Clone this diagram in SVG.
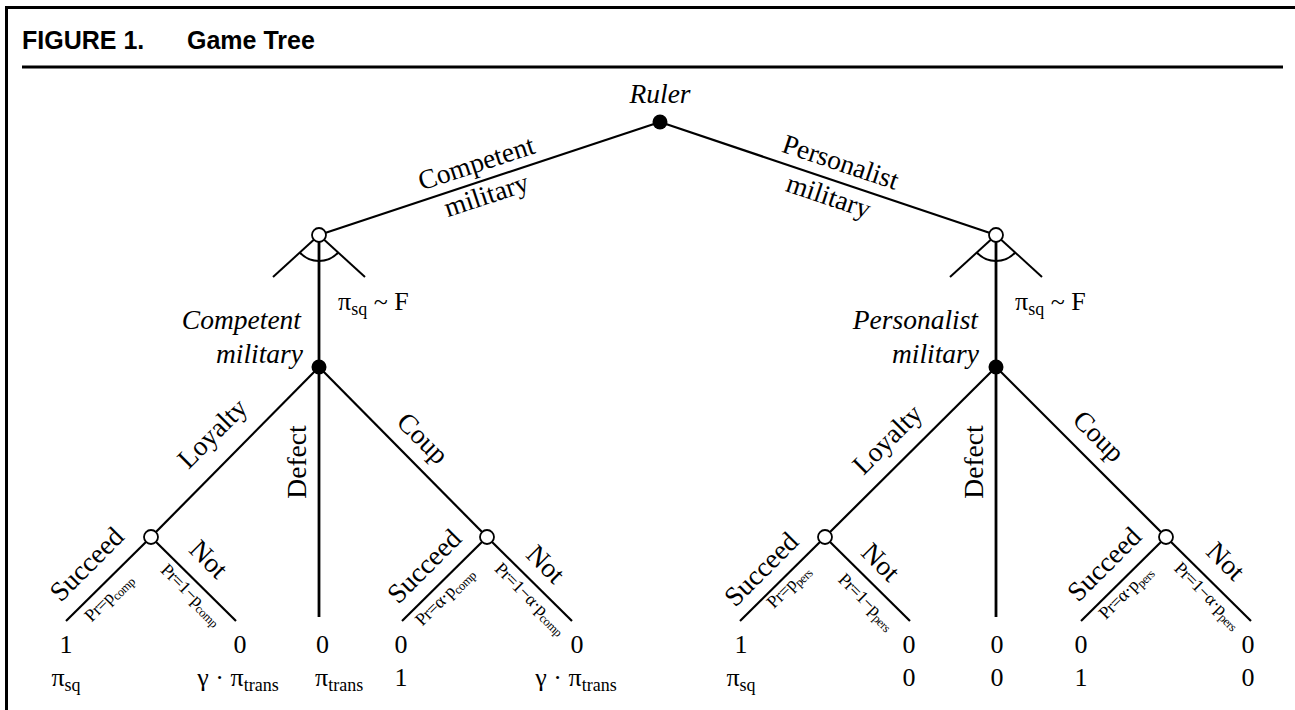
<svg xmlns="http://www.w3.org/2000/svg" width="1295" height="710" viewBox="0 0 1295 710">
<style>
.frame{stroke:#000;stroke-width:3;fill:none}
.e{stroke:#000;stroke-width:2.2;fill:none;stroke-linecap:butt}
.v{stroke:#000;stroke-width:2.8;fill:none}
.f{stroke:#000;stroke-width:2;fill:none}
.dec{fill:#000}
.chance{fill:#fff;stroke:#000;stroke-width:1.8}
.t{font-family:"Liberation Serif","Times New Roman",serif;font-size:26px;fill:#000}
.L{font-size:27.5px}
.it{font-style:italic}
.m{text-anchor:middle}
.end{text-anchor:end}
.sm{font-family:"Liberation Serif","Times New Roman",serif;font-size:18px;fill:#000;text-anchor:middle;letter-spacing:-0.4px}
.s{font-size:18px}
.ss{font-size:12.5px}
.title{font-family:"Liberation Sans",Arial,sans-serif;font-weight:bold;font-size:25px;fill:#000}
</style>
<rect width="1295" height="710" fill="#fff"/>
<g id="frame">
<line class="frame" x1="6.5" y1="7" x2="6.5" y2="710"/>
<line class="frame" x1="5" y1="7.5" x2="1295" y2="7.5"/>
<line class="frame" x1="22" y1="67" x2="1283" y2="67"/>
<text class="title" x="22" y="49">FIGURE 1.</text>
<text class="title" x="187" y="49">Game Tree</text>
</g>
<g id="connectors">
<line class="e" x1="660" y1="122" x2="319" y2="235"/>
<line class="e" x1="660" y1="122" x2="996" y2="235"/>
<line class="v" x1="319" y1="235" x2="319" y2="367"/>
<line class="v" x1="319" y1="367" x2="319" y2="617"/>
<line class="v" x1="996" y1="235" x2="996" y2="367"/>
<line class="v" x1="996" y1="367" x2="996" y2="617"/>
<line class="f" x1="319" y1="235" x2="273" y2="277"/>
<line class="f" x1="319" y1="235" x2="365" y2="277"/>
<path class="f" d="M299.8,252.5 A26,26 0 0 0 338.2,252.5"/>
<line class="f" x1="996" y1="235" x2="950" y2="277"/>
<line class="f" x1="996" y1="235" x2="1042" y2="277"/>
<path class="f" d="M976.8,252.5 A26,26 0 0 0 1015.2,252.5"/>
<line class="e" x1="319" y1="367" x2="151" y2="537"/>
<line class="e" x1="319" y1="367" x2="487" y2="537"/>
<line class="e" x1="151" y1="537" x2="66" y2="621"/>
<line class="e" x1="151" y1="537" x2="236" y2="621"/>
<line class="e" x1="487" y1="537" x2="402" y2="621"/>
<line class="e" x1="487" y1="537" x2="572" y2="621"/>
<line class="e" x1="996" y1="367" x2="825" y2="537"/>
<line class="e" x1="996" y1="367" x2="1166" y2="537"/>
<line class="e" x1="825" y1="537" x2="740" y2="621"/>
<line class="e" x1="825" y1="537" x2="910" y2="621"/>
<line class="e" x1="1166" y1="537" x2="1081" y2="621"/>
<line class="e" x1="1166" y1="537" x2="1251" y2="621"/>
<text class="t L m" transform="translate(477,165) rotate(-18.2)" y="7">Competent</text>
<text class="t L m" transform="translate(487,197) rotate(-18.2)" y="7">military</text>
<text class="t L m" transform="translate(840,164) rotate(18.6)" y="7">Personalist</text>
<text class="t L m" transform="translate(828,198) rotate(18.6)" y="7">military</text>
<text class="t" x="338" y="310">π<tspan class="s" dy="5">sq</tspan><tspan dy="-5"> ~ F</tspan></text>
<text class="t" x="1015" y="310">π<tspan class="s" dy="5">sq</tspan><tspan dy="-5"> ~ F</tspan></text>
<text class="t L m" transform="translate(213,434) rotate(-45)" y="8">Loyalty</text>
<text class="t L m" transform="translate(297,462) rotate(-90)" y="9">Defect</text>
<text class="t L m" transform="translate(422,439) rotate(45)" y="8">Coup</text>
<text class="t L m" transform="translate(888,440) rotate(-45)" y="8">Loyalty</text>
<text class="t L m" transform="translate(974,462) rotate(-90)" y="9">Defect</text>
<text class="t L m" transform="translate(1098,437) rotate(45)" y="8">Coup</text>
<text class="t L m" transform="translate(87.5,565) rotate(-45)" y="8">Succeed</text>
<text class="t L m" transform="translate(208,560) rotate(45)" y="8">Not</text>
<text class="sm" transform="translate(109,598) rotate(-45)" y="5">Pr=p<tspan class="ss" dy="3">comp</tspan></text>
<text class="sm" transform="translate(191,595) rotate(45)" y="5">Pr=1−p<tspan class="ss" dy="3">comp</tspan></text>
<text class="t L m" transform="translate(425,567) rotate(-45)" y="8">Succeed</text>
<text class="t L m" transform="translate(545,565) rotate(45)" y="8">Not</text>
<text class="sm" transform="translate(445,597) rotate(-45)" y="5">Pr=α·p<tspan class="ss" dy="3">comp</tspan></text>
<text class="sm" transform="translate(530,599) rotate(45)" y="5">Pr=1−α·p<tspan class="ss" dy="3">comp</tspan></text>
<text class="t L m" transform="translate(762,570) rotate(-45)" y="8">Succeed</text>
<text class="t L m" transform="translate(880,563) rotate(45)" y="8">Not</text>
<text class="sm" transform="translate(789,587) rotate(-45)" y="5">Pr=p<tspan class="ss" dy="3">pers</tspan></text>
<text class="sm" transform="translate(866,602) rotate(45)" y="5">Pr=1−p<tspan class="ss" dy="3">pers</tspan></text>
<text class="t L m" transform="translate(1105,565) rotate(-45)" y="8">Succeed</text>
<text class="t L m" transform="translate(1225,562) rotate(45)" y="8">Not</text>
<text class="sm" transform="translate(1126,593) rotate(-45)" y="5">Pr=α·p<tspan class="ss" dy="3">pers</tspan></text>
<text class="sm" transform="translate(1207,596) rotate(45)" y="5">Pr=1−α·p<tspan class="ss" dy="3">pers</tspan></text>
</g>
<g id="ruler">
<circle class="dec" cx="660" cy="122" r="7.5"/>
<text class="t L it m" x="660" y="103">Ruler</text>
</g>
<g id="nature-competent">
<circle class="chance" cx="319" cy="235" r="7"/>
</g>
<g id="nature-personalist">
<circle class="chance" cx="996" cy="235" r="7"/>
</g>
<g id="military-competent">
<circle class="dec" cx="319" cy="367" r="7.5"/>
<text class="t L it end" x="301" y="329">Competent</text>
<text class="t L it end" x="303" y="363">military</text>
</g>
<g id="military-personalist">
<circle class="dec" cx="996" cy="367" r="7.5"/>
<text class="t L it end" x="978" y="329">Personalist</text>
<text class="t L it end" x="979" y="363">military</text>
</g>
<g id="chance-comp-loyalty"><circle class="chance" cx="151" cy="537" r="7"/></g>
<g id="chance-comp-coup"><circle class="chance" cx="487" cy="537" r="7"/></g>
<g id="chance-pers-loyalty"><circle class="chance" cx="825" cy="537" r="7"/></g>
<g id="chance-pers-coup"><circle class="chance" cx="1166" cy="537" r="7"/></g>
<g id="payoff-comp-loyal-succeed">
<text class="t m" x="66" y="653">1</text>
<text class="t m" x="66" y="686">π<tspan class="s" dy="5">sq</tspan></text>
</g>
<g id="payoff-comp-loyal-not">
<text class="t m" x="240" y="653">0</text>
<text class="t m" x="238" y="686">γ · π<tspan class="s" dy="5">trans</tspan></text>
</g>
<g id="payoff-comp-defect">
<text class="t" x="316" y="653">0</text>
<text class="t" x="315" y="686">π<tspan class="s" dy="5">trans</tspan></text>
</g>
<g id="payoff-comp-coup-succeed">
<text class="t m" x="401" y="653">0</text>
<text class="t m" x="401" y="686">1</text>
</g>
<g id="payoff-comp-coup-not">
<text class="t m" x="577" y="653">0</text>
<text class="t m" x="576" y="686">γ · π<tspan class="s" dy="5">trans</tspan></text>
</g>
<g id="payoff-pers-loyal-succeed">
<text class="t m" x="741" y="653">1</text>
<text class="t m" x="741" y="686">π<tspan class="s" dy="5">sq</tspan></text>
</g>
<g id="payoff-pers-loyal-not">
<text class="t m" x="909" y="653">0</text>
<text class="t m" x="909" y="686">0</text>
</g>
<g id="payoff-pers-defect">
<text class="t m" x="997" y="653">0</text>
<text class="t m" x="997" y="686">0</text>
</g>
<g id="payoff-pers-coup-succeed">
<text class="t m" x="1081" y="653">0</text>
<text class="t m" x="1081" y="686">1</text>
</g>
<g id="payoff-pers-coup-not">
<text class="t m" x="1248" y="653">0</text>
<text class="t m" x="1248" y="686">0</text>
</g>
</svg>
